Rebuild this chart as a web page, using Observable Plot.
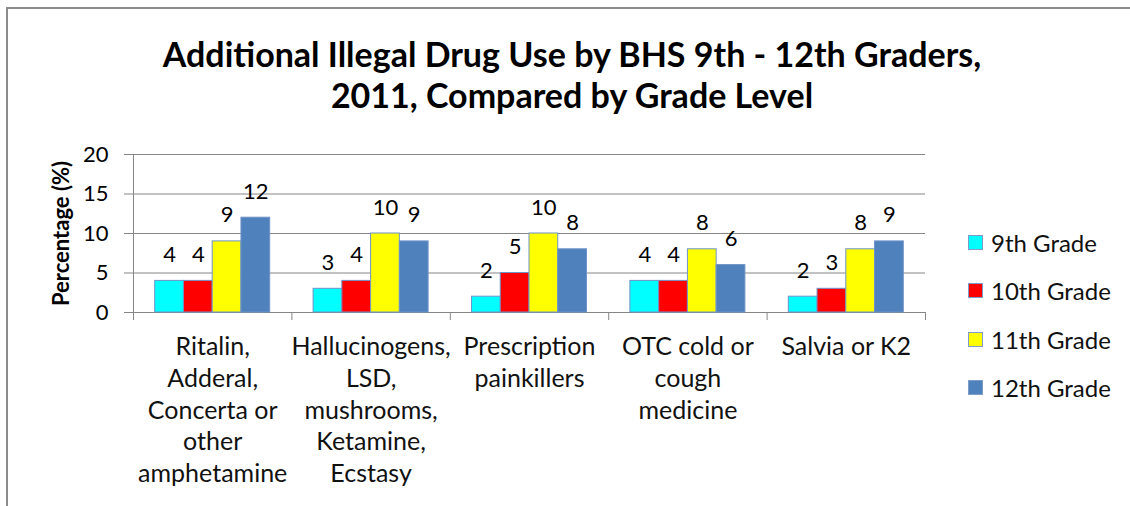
<!DOCTYPE html>
<html>
<head>
<meta charset="utf-8">
<script src="https://cdn.jsdelivr.net/npm/d3@7"></script>
<script src="https://cdn.jsdelivr.net/npm/@observablehq/plot@0.6"></script>
<style>
  html, body { margin: 0; padding: 0; background: #fff; overflow: hidden; }
  #chart { position: relative; width: 1130px; height: 506px; font-family: Lato, "Open Sans", sans-serif; color: #000; }
  #border { position: absolute; left: 6px; top: 7px; width: 1200px; height: 600px;
            border-top: 2px solid #8c8c8c; border-left: 2px solid #8c8c8c; box-sizing: border-box; pointer-events: none; }
  #plot { position: absolute; left: 0; top: 0; }
  #title { position: absolute; left: 72px; width: 1000px; top: 33px; text-align: center;
           font-weight: bold; font-size: 34px; line-height: 41px; color: #000; white-space: nowrap; }
  #legend { position: absolute; left: 968px; top: 218px; }
  .item { display: flex; align-items: center; height: 48.5px; font-size: 24px; color: #111; }
  .swatch { width: 13px; height: 13px; margin-right: 8px; border: 1px solid #7f9cc8; }
</style>
</head>
<body>
<div id="chart">
  <div id="plot"></div>
  <div id="title">Additional Illegal Drug Use by BHS 9th - 12th Graders,<br>2011, Compared by Grade Level</div>
  <div id="legend"></div>
  <div id="border"></div>
</div>
<script>
// ---- data ----
const categories = [
  "Ritalin,\nAdderal,\nConcerta or\nother\namphetamine",
  "Hallucinogens,\nLSD,\nmushrooms,\nKetamine,\nEcstasy",
  "Prescription\npainkillers",
  "OTC cold or\ncough\nmedicine",
  "Salvia or K2"
];
const grades = ["9th Grade", "10th Grade", "11th Grade", "12th Grade"];
const grade9  = [4, 3, 2, 4, 2];
const grade10 = [4, 4, 5, 4, 3];
const grade11 = [9, 10, 10, 8, 8];
const grade12 = [12, 9, 8, 6, 9];
const yTicks = [0, 5, 10, 15, 20];
const colors = ["#00FFFF", "#FF0000", "#FFFF00", "#4F81BD"];

// ---- build rows ----
const series = [grade9, grade10, grade11, grade12];
const rows = [];
categories.forEach((c, ci) => {
  series.forEach((vals, gi) => {
    rows.push({category: c, ci, grade: grades[gi], gi, value: vals[ci]});
  });
});

// layout of the 4 bars inside each category slot (fractions of one slot)
const barW = 0.1815;
const groupPad = (1 - barW * grades.length) / 2;
const left = d => d.ci + groupPad + d.gi * barW;
const right = d => left(d) + barW;
const mid = d => left(d) + barW / 2;

const gray = "#868686";

const plot = Plot.plot({
  width: 1130,
  height: 506,
  marginLeft: 133,
  marginRight: 205,
  marginTop: 154,
  marginBottom: 194,
  style: {fontFamily: "Lato, 'Open Sans', sans-serif", fontSize: "22px", color: "#000", background: "transparent", overflow: "visible"},
  x: {domain: [0, categories.length]},
  y: {domain: [0, 20]},
  color: {domain: grades, range: colors},
  marks: [
    Plot.ruleY(yTicks, {stroke: gray, strokeWidth: 1}),
    Plot.axisY({ticks: yTicks, tickSize: 9, tickPadding: 16, stroke: gray, fontSize: 22, label: null}),
    Plot.axisX({ticks: d3.range(categories.length + 1), tickSize: 8, tickFormat: () => "", stroke: gray, label: null}),
    Plot.ruleX([0], {stroke: gray, strokeWidth: 1}),
    Plot.rectY(rows, {x1: left, x2: right, y1: 0, y2: "value", fill: "grade", stroke: "#6f93c8", strokeWidth: 1}),
    Plot.text(rows, {x: mid, y: "value", text: d => String(d.value), dy: -19, lineAnchor: "bottom", fontSize: 22, fill: "#000"}),
    Plot.text(categories, {x: (d, i) => i + 0.5, frameAnchor: "bottom", dy: 20, lineAnchor: "top",
                           lineHeight: 1.27, fontSize: 25, fill: "#111", text: d => d}),
    Plot.text(["Percentage (%)"], {frameAnchor: "left", rotate: -90, dx: -72, textAnchor: "middle",
                                   fontWeight: "bold", fontSize: 22, fill: "#000"})
  ]
});
document.getElementById("plot").appendChild(plot);

// ---- legend ----
const legend = document.getElementById("legend");
grades.forEach((g, i) => {
  const item = document.createElement("div");
  item.className = "item";
  const sw = document.createElement("span");
  sw.className = "swatch";
  sw.style.background = colors[i];
  const lab = document.createElement("span");
  lab.textContent = g;
  item.appendChild(sw);
  item.appendChild(lab);
  legend.appendChild(item);
});
</script>
</body>
</html>
